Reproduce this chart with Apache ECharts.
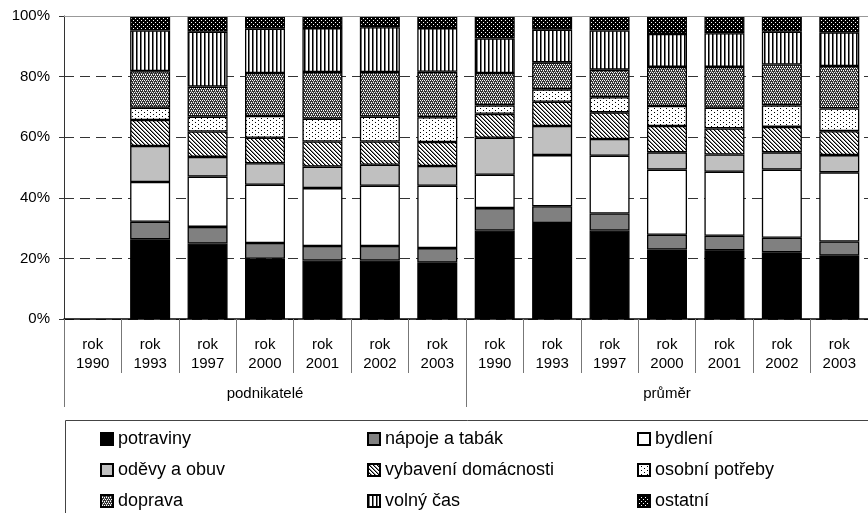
<!DOCTYPE html>
<html>
<head>
<meta charset="utf-8">
<script src="https://cdn.jsdelivr.net/npm/echarts@6/dist/echarts.min.js"></script>
<style>html,body{margin:0;padding:0;background:#fff}#c{width:868px;height:513px}</style>
</head>
<body>
<div id="c"></div>
<script>
const categories = ['rok\n1990','rok\n1993','rok\n1997','rok\n2000','rok\n2001','rok\n2002','rok\n2003',
                    'rok\n1990','rok\n1993','rok\n1997','rok\n2000','rok\n2001','rok\n2002','rok\n2003'];
const groups = ['podnikatelé','průměr'];
const seriesNames = ['potraviny','nápoje a tabák','bydlení','oděvy a obuv','vybavení domácnosti','osobní potřeby','doprava','volný čas','ostatní'];

const potraviny = [null,26.3,24.9,19.9,19.3,19.3,18.6, 29.2,31.7,29.2,22.9,22.7,22.0,20.9];
const napoje    = [null, 5.8, 5.5, 5.2, 4.8, 4.8, 4.8,  7.4, 5.5, 5.6, 4.9, 4.8, 4.8, 4.7];
const bydleni   = [null,13.1,16.6,19.2,19.1,19.9,20.6, 11.0,16.9,19.1,21.5,21.1,22.5,22.8];
const odevy     = [null,11.9, 6.5, 7.1, 7.1, 6.9, 6.5, 12.2, 9.6, 5.5, 5.7, 5.7, 5.7, 5.7];
const vybaveni  = [null, 8.6, 8.4, 8.4, 8.3, 7.7, 7.9,  7.9, 8.0, 8.8, 8.7, 8.6, 8.4, 7.9];
const osobni    = [null, 4.0, 4.9, 7.2, 7.5, 8.2, 8.2,  2.8, 4.1, 5.0, 6.6, 6.8, 7.1, 7.5];
const doprava   = [null,12.1, 9.9,14.2,15.4,14.7,15.0, 10.7, 8.9, 9.1,12.9,13.5,13.5,14.0];
const volny     = [null,13.4,18.1,14.6,14.5,14.8,14.4, 11.4,10.8,12.9,10.9,11.1,10.8,11.1];
const ostatni   = [null, 4.8, 5.2, 4.2, 4.0, 3.7, 4.0,  7.4, 4.5, 4.8, 5.9, 5.7, 5.2, 5.4];
const yTicks = [0,20,40,60,80,100];

const values = [potraviny,napoje,bydleni,odevy,vybaveni,osobni,doprava,volny,ostatni];

function pat(w,h,bg,pix){
  const c=document.createElement('canvas'); c.width=w; c.height=h;
  const ctx=c.getContext('2d'); ctx.fillStyle=bg; ctx.fillRect(0,0,w,h);
  pix.forEach(p=>{ctx.fillStyle=p[2]; ctx.fillRect(p[0],p[1],1,1);});
  return {image:c, repeat:'repeat'};
}
const B='#000', W='#fff', G='#888';
const fills = [
  '#000000',
  '#808080',
  '#ffffff',
  '#c0c0c0',
  pat(4,4,W,[[0,0,B],[1,1,B],[2,2,B],[3,3,B],[1,0,G],[2,1,G],[3,2,G],[0,3,G]]),
  pat(6,4,W,[[0,0,B],[3,2,B]]),
  pat(4,4,'#333',[[0,0,W],[2,0,W],[1,2,W],[3,2,W],[1,1,'#aaa'],[3,3,'#aaa']]),
  pat(4,1,W,[[0,0,B],[1,0,'#777']]),
  pat(4,4,B,[[1,0,W],[3,2,W]])
];

const font = 'Liberation Sans, Arial, sans-serif';
const series = seriesNames.map((n,i)=>{
  const s = {
    name:n, type:'bar', stack:'a', barWidth:40, xAxisIndex:0,
    data: values[i],
    itemStyle:{color:fills[i], borderColor:'#000', borderWidth:1.3},
    emphasis:{disabled:true}
  };
  if(i===0){
    s.markLine = {silent:true, symbol:'none', label:{show:false},
      lineStyle:{type:'solid', color:'#999', width:1}, data:[{yAxis:100}]};
  }
  return s;
});

const legendCols = [[0,3,6],[1,4,7],[2,5,8]];
const legendLeft = [100,367,637];
const legends = legendCols.map((col,k)=>({
  orient:'vertical', left:legendLeft[k], top:430, height:120, padding:0,
  itemWidth:12, itemHeight:12, itemGap:13,
  icon:'rect', selectedMode:false,
  textStyle:{fontSize:18, fontFamily:font, color:'#000', lineHeight:18},
  data: col.map(i=>seriesNames[i])
}));

const chart = echarts.init(document.getElementById('c'), null, {renderer:'canvas'});
chart.setOption({
  animation:false,
  backgroundColor:'#fff',
  grid:{left:64, top:16, width:815, bottom:194, containLabel:false},
  legend: legends,
  xAxis:[
    {type:'category', data:categories, position:'bottom',
     axisLine:{show:true, lineStyle:{color:'#000', width:1.5}},
     axisTick:{show:true, interval:0, length:54, lineStyle:{color:'#777', width:1}},
     axisLabel:{interval:0, fontSize:15, lineHeight:19, margin:16, color:'#000', fontFamily:font}},
    {type:'category', data:groups, position:'bottom', offset:0,
     axisLine:{show:false},
     axisTick:{show:true, interval:0, length:88, lineStyle:{color:'#777', width:1}},
     axisLabel:{interval:0, fontSize:15, margin:67, color:'#000', fontFamily:font}}
  ],
  yAxis:{type:'value', min:yTicks[0], max:yTicks[yTicks.length-1], interval:20,
    axisLine:{show:true, lineStyle:{color:'#333', width:1}},
    axisTick:{show:true, length:5, lineStyle:{color:'#333'}},
    axisLabel:{formatter:'{value}%', fontSize:15, margin:14, color:'#000', fontFamily:font},
    splitLine:{show:true, lineStyle:{type:[10,6], color:'#333', width:1}}},
  graphic:[{type:'rect', left:63, top:418, shape:{width:820, height:120},
    style:{fill:null, stroke:'#444', lineWidth:1}, silent:true}],
  series: series
});
</script>
</body>
</html>
